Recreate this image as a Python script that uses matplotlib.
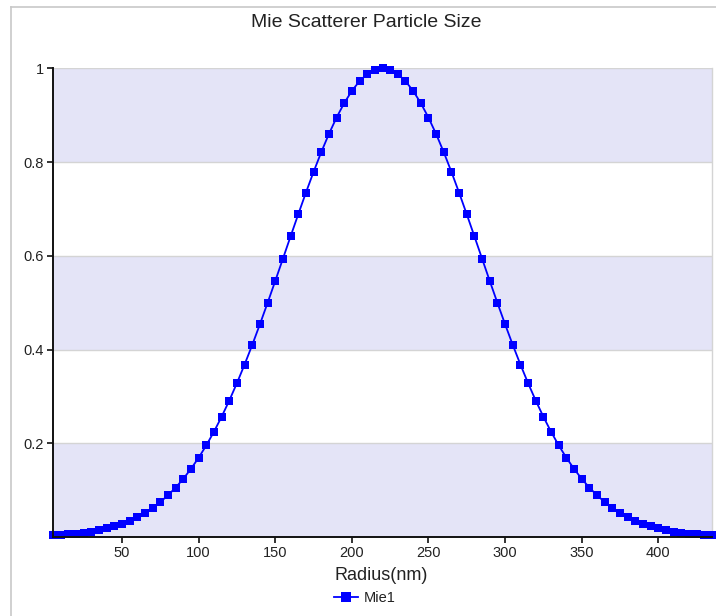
import matplotlib
matplotlib.use("Agg")
import matplotlib.pyplot as plt
from matplotlib.lines import Line2D

plt.rcParams['font.family'] = ['Liberation Sans', 'DejaVu Sans']

# Data (Radius in nm, normalized intensity)
radius = list(range(5, 440, 5))
left_half = [0.0033, 0.0043, 0.0056, 0.0072, 0.0091, 0.0116, 0.0146, 0.0183,
             0.0228, 0.0282, 0.0347, 0.0424, 0.0515, 0.0622, 0.0746, 0.0889,
             0.1054, 0.1241, 0.1453, 0.1690, 0.1954, 0.2245, 0.2564, 0.2910,
             0.3282, 0.3679, 0.4098, 0.4538, 0.4994, 0.5461, 0.5936, 0.6412,
             0.6883, 0.7345, 0.7788, 0.8208, 0.8597, 0.8948, 0.9257, 0.9518,
             0.9726, 0.9877, 0.9969]
peak = [1.0]
intensity = left_half + peak + left_half[::-1]

x_ticks = [50, 100, 150, 200, 250, 300, 350, 400]
y_ticks = [0.2, 0.4, 0.6, 0.8, 1.0]
y_tick_labels = ["0.2", "0.4", "0.6", "0.8", "1"]
bands = [(0.0, 0.2), (0.4, 0.6), (0.8, 1.0)]

title = "Mie Scatterer Particle Size"
xlabel = "Radius(nm)"
series_name = "Mie1"

W, H = 716, 616
fig = plt.figure(figsize=(W / 100, H / 100), dpi=100)

# outer light border (top and left edges visible)
fig.add_artist(Line2D([11 / W, 11 / W], [0, 1 - 6.5 / H], transform=fig.transFigure,
                      color='#C8C8C8', lw=1.2))
fig.add_artist(Line2D([11 / W, 1], [1 - 6.5 / H, 1 - 6.5 / H], transform=fig.transFigure,
                      color='#C8C8C8', lw=1.2))

ax_left, ax_right = 53 / W, 712 / W
ax_bottom, ax_top = 1 - 537 / H, 1 - 68.3 / H
ax = fig.add_axes([ax_left, ax_bottom, ax_right - ax_left, ax_top - ax_bottom])

for lo, hi in bands:
    ax.axhspan(lo, hi, color='#E4E4F7', lw=0, zorder=0)
for yv in y_ticks:
    ax.axhline(yv, color='#D4D4D4', lw=1, zorder=1)

ax.plot(radius, intensity, color='#0000FF', lw=1.3, marker='s', markersize=5.6,
        markeredgewidth=0, clip_on=False, zorder=3, label=series_name)

ax.set_xlim(5, 435)
ax.set_ylim(0, 1)
ax.set_xticks(x_ticks)
ax.set_xticklabels([str(v) for v in x_ticks])
ax.set_yticks(y_ticks)
ax.set_yticklabels(y_tick_labels)

ax.spines['top'].set_visible(False)
ax.spines['right'].set_color('#D4D4D4')
ax.spines['right'].set_linewidth(1)
ax.spines['left'].set_color('#111111')
ax.spines['bottom'].set_color('#111111')
ax.spines['left'].set_linewidth(1.4)
ax.spines['bottom'].set_linewidth(1.4)
ax.spines['left'].set_zorder(4)
ax.spines['bottom'].set_zorder(4)

ax.tick_params(axis='both', direction='out', length=4.5, width=1.2, color='#111111',
               labelsize=10.5, labelcolor='#222222', pad=2)

fig.text(366 / W, 1 - 22.5 / H, title, ha='center', va='center', fontsize=14, color='#222222')
fig.text(381 / W, 1 - 576 / H, xlabel, ha='center', va='center', fontsize=13, color='#222222')

handle = Line2D([], [], color='#0000FF', lw=1.3, marker='s', markersize=7, markeredgewidth=0)
fig.legend([handle], [series_name], loc='center', bbox_to_anchor=(365 / W, 1 - 598 / H),
           frameon=False, fontsize=10.5, handlelength=1.6, handletextpad=0.4,
           borderpad=0, labelcolor='#222222')

fig.savefig('out.png', dpi=100)
